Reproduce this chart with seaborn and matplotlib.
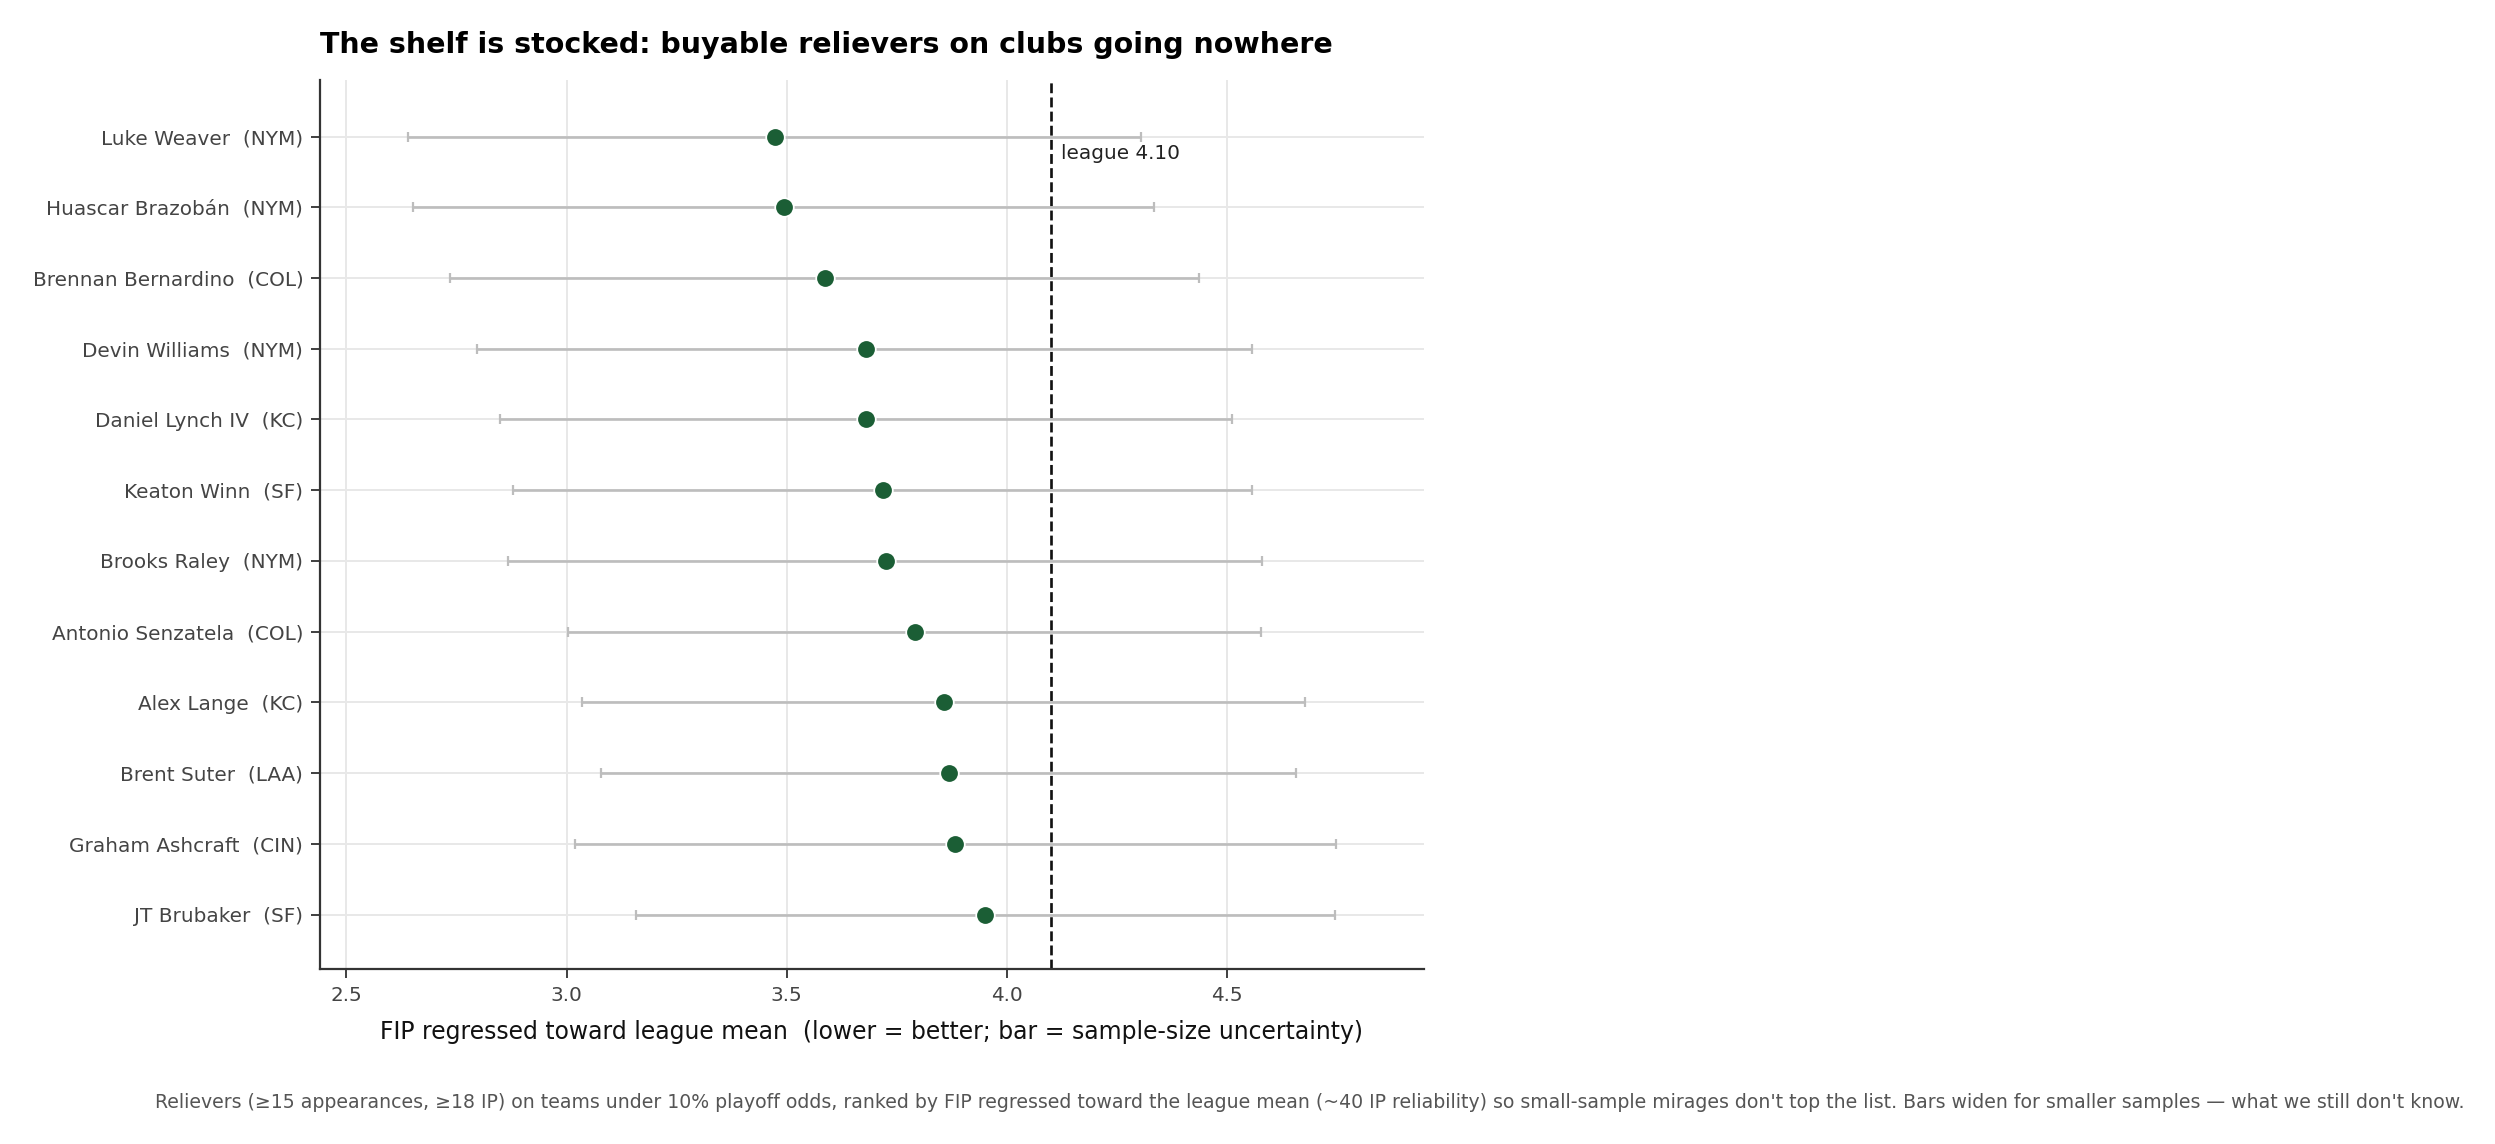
"""Buyable relievers on non-contending clubs: regressed FIP with uncertainty bars."""
import matplotlib
matplotlib.use('Agg')
import matplotlib.pyplot as plt
import pandas as pd
import seaborn as sns

# values
names = ['Luke Weaver', 'Huascar Brazobán', 'Brennan Bernardino', 'Devin Williams',
         'Daniel Lynch IV', 'Keaton Winn', 'Brooks Raley', 'Antonio Senzatela',
         'Alex Lange', 'Brent Suter', 'Graham Ashcraft', 'JT Brubaker']
teams = ['NYM', 'NYM', 'COL', 'NYM', 'KC', 'SF', 'NYM', 'COL', 'KC', 'LAA', 'CIN', 'SF']
fip_reg = [3.474, 3.494, 3.587, 3.679, 3.681, 3.719, 3.725, 3.791, 3.857, 3.868, 3.881, 3.950]
fip_lo = [2.640, 2.652, 2.736, 2.797, 2.849, 2.879, 2.867, 3.003, 3.035, 3.078, 3.019, 3.157]
fip_hi = [4.304, 4.333, 4.437, 4.557, 4.512, 4.557, 4.580, 4.577, 4.677, 4.657, 4.747, 4.744]
league_fip = 4.10

df = pd.DataFrame({'name': names, 'team': teams, 'fip': fip_reg, 'lo': fip_lo, 'hi': fip_hi})
df['label'] = df['name'] + '  (' + df['team'] + ')'

sns.set_theme(style='whitegrid')
plt.rcParams['font.family'] = ['DejaVu Sans']

fig = plt.figure(figsize=(2495 / 160, 1144 / 160), dpi=160)
ax = fig.add_axes([320 / 2495, 1 - 969 / 1144, (1424 - 320) / 2495, (969 - 80) / 1144])

# uncertainty bars first, dots on top
ax.errorbar(df['fip'], df['label'],
            xerr=[df['fip'] - df['lo'], df['hi'] - df['fip']],
            fmt='none', ecolor='#bdbdbd', elinewidth=1.2, capsize=2.2, capthick=1.0, zorder=2)
sns.scatterplot(data=df, x='fip', y='label', ax=ax, color='#1b5e35', s=70,
                edgecolor='white', linewidth=0.8, zorder=3)

ax.axvline(league_fip, color='#111111', linestyle='--', linewidth=1.2, zorder=1)
ax.text(league_fip + 0.022, 0.24, f'league {league_fip:.2f}', fontsize=9,
        color='#222222', va='center', ha='left')

ax.set_xlim(df['lo'].min() - 0.2, df['hi'].max() + 0.2)
ax.set_ylim(len(df) - 1 + 0.77, -0.8)
ax.set_xticks([2.5, 3.0, 3.5, 4.0, 4.5])

ax.grid(True, color='#e8e8e8', linewidth=0.9)
ax.set_axisbelow(True)
sns.despine(ax=ax)
for s in ['left', 'bottom']:
    ax.spines[s].set_color('#333333')
    ax.spines[s].set_linewidth(1.0)
ax.tick_params(axis='both', colors='#444444', labelsize=9, length=4, width=0.9,
               left=True, bottom=True)

ax.set_ylabel('')
ax.set_xlabel('FIP regressed toward league mean  (lower = better; bar = sample-size uncertainty)',
              fontsize=10.6, color='#111111', labelpad=7)
ax.set_title('The shelf is stocked: buyable relievers on clubs going nowhere',
             loc='left', fontsize=12.8, fontweight='bold', color='black', pad=12)

fig.text(0.525, 0.036,
         "Relievers (\u226515 appearances, \u226518 IP) on teams under 10% playoff odds, ranked by FIP "
         "regressed toward the league mean (~40 IP reliability) so small-sample mirages don't top "
         "the list. Bars widen for smaller samples \u2014 what we still don't know.",
         ha='center', va='center', fontsize=8.5, color='#555555')

fig.savefig('out.png', dpi=160, facecolor='white')
